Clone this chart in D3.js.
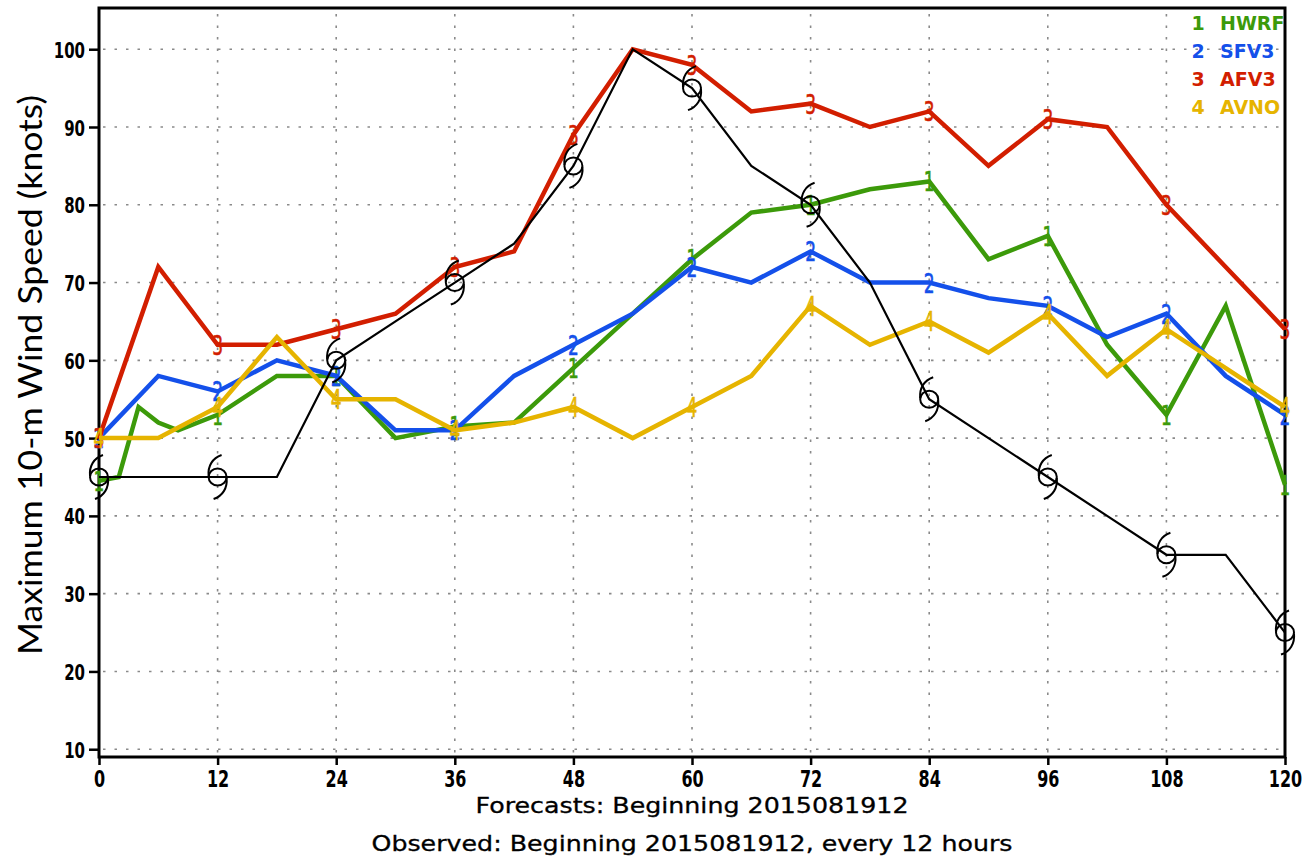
<!DOCTYPE html>
<html>
<head>
<meta charset="utf-8">
<script src="https://cdn.jsdelivr.net/npm/d3@7"></script>
<style>
  html, body { margin: 0; padding: 0; background: #fff; }
  svg { display: block; }
</style>
</head>
<body>
<svg id="chart" width="1303" height="856"></svg>
<script>
// Forecast hours (every 6 h) shared by most series
const hours6 = [0, 6, 12, 18, 24, 30, 36, 42, 48, 54, 60, 66, 72, 78, 84, 90, 96, 102, 108, 114, 120];
// HWRF has a few extra early outputs
const hwrfHours = [0, 2, 4, 6, 8, 12, 18, 24, 30, 36, 42, 48, 54, 60, 66, 72, 78, 84, 90, 96, 102, 108, 114, 120];
const hwrfValues = [44.5, 45, 54, 52, 51, 53, 58, 58, 50, 51.5, 52, 59, 66, 73, 79, 80, 82, 83, 73, 76, 62, 53, 67, 44];
const sfv3Values = [50, 58, 56, 60, 58, 51, 51, 58, 62, 66, 72, 70, 74, 70, 70, 68, 67, 63, 66, 58, 53];
const afv3Values = [50, 72, 62, 62, 64, 66, 72, 74, 89, 100, 98, 92, 93, 90, 92, 85, 91, 90, 80, 72, 64];
const avnoValues = [50, 50, 54, 63, 55, 55, 51, 52, 54, 50, 54, 58, 67, 62, 65, 61, 66, 58, 64, 59, 54];
const observedValues = [45, 45, 45, 45, 60, 65, 70, 75, 85, 100, 95, 85, 80, 70, 55, 50, 45, 40, 35, 35, 25];

// Labels
const markerHours = [0, 12, 24, 36, 48, 60, 72, 84, 96, 108, 120];
const xTicks = [0, 12, 24, 36, 48, 60, 72, 84, 96, 108, 120];
const yTicks = [10, 20, 30, 40, 50, 60, 70, 80, 90, 100];
const modelNames = ["HWRF", "SFV3", "AFV3", "AVNO"];
const modelMarks = ["1", "2", "3", "4"];
const modelColors = ["#3c9a0a", "#1450ea", "#d21e00", "#e6b400"];
const yTitle = "Maximum 10-m Wind Speed (knots)";
const xTitle1 = "Forecasts: Beginning 2015081912";
const xTitle2 = "Observed: Beginning 2015081912, every 12 hours";

const svg = d3.select("#chart");
const plotLeft = 99, plotRight = 1285, plotTop = 8, plotBottom = 757;

const x = d3.scaleLinear().domain([0, 120]).range([plotLeft, plotRight]);
const y = d3.scaleLinear().domain([9, 105.3]).range([plotBottom, plotTop]);

// dotted grid
const grid = svg.append("g").attr("stroke", "#8a8a8a").attr("stroke-width", 1.6)
  .attr("stroke-dasharray", "2.5,9");
grid.selectAll("line.h").data(yTicks).join("line").attr("class", "h")
  .attr("x1", plotLeft + 4).attr("x2", plotRight).attr("y1", d => y(d)).attr("y2", d => y(d));
grid.selectAll("line.v").data(xTicks.slice(1, -1)).join("line").attr("class", "v")
  .attr("x1", d => x(d)).attr("x2", d => x(d)).attr("y1", plotTop + 6).attr("y2", plotBottom);

// axes
const tickFont = "DejaVu Sans, sans-serif";
const yAxis = d3.axisLeft(y).tickValues(yTicks).tickSize(10).tickFormat(d3.format("d"));
const gy = svg.append("g").attr("transform", `translate(${plotLeft},0)`).call(yAxis);
gy.select(".domain").remove();
gy.selectAll(".tick line").attr("stroke", "#000").attr("stroke-width", 2.5);
gy.selectAll(".tick text")
  .attr("x", null).attr("dy", null)
  .attr("transform", "translate(-14,8) scale(1,1.4)")
  .attr("font-family", tickFont).attr("font-weight", "bold").attr("font-size", 15)
  .attr("text-anchor", "end").attr("fill", "#000");

const xAxis = d3.axisBottom(x).tickValues(xTicks).tickSize(8).tickFormat(d3.format("d"));
const gx = svg.append("g").attr("transform", `translate(0,${plotBottom})`).call(xAxis);
gx.select(".domain").remove();
gx.selectAll(".tick line").attr("stroke", "#000").attr("stroke-width", 2.5);
gx.selectAll(".tick text")
  .attr("y", null).attr("dy", null)
  .attr("transform", "translate(0,30) scale(1,1.4)")
  .attr("font-family", tickFont).attr("font-weight", "bold").attr("font-size", 16)
  .attr("text-anchor", "middle").attr("fill", "#000");

// frame
svg.append("rect").attr("x", plotLeft).attr("y", plotTop)
  .attr("width", plotRight - plotLeft).attr("height", plotBottom - plotTop)
  .attr("fill", "none").attr("stroke", "#000").attr("stroke-width", 3);

const plot = svg.append("g");
const line = d3.line().x(d => x(d[0])).y(d => y(d[1]));

const models = [
  { hours: hwrfHours, values: hwrfValues },
  { hours: hours6, values: sfv3Values },
  { hours: hours6, values: afv3Values },
  { hours: hours6, values: avnoValues }
];

models.forEach((m, i) => {
  const pts = m.hours.map((h, k) => [h, m.values[k]]);
  plot.append("path").datum(pts).attr("d", line)
    .attr("fill", "none").attr("stroke", modelColors[i]).attr("stroke-width", 4.5)
    .attr("stroke-linejoin", "miter");
  const marks = pts.filter(p => markerHours.includes(p[0]));
  plot.append("g").selectAll("text").data(marks).join("text")
    .attr("transform", d => `translate(${x(d[0])},${y(d[1]) + 10}) scale(1,1.6)`)
    .attr("text-anchor", "middle")
    .attr("font-family", tickFont).attr("font-size", 17)
    .attr("stroke", modelColors[i]).attr("stroke-width", 0.4)
    .attr("fill", modelColors[i])
    .text(modelMarks[i]);
});

// observed track with tropical cyclone symbols
const obsPts = hours6.map((h, k) => [h, observedValues[k]]);
plot.append("path").datum(obsPts).attr("d", line)
  .attr("fill", "none").attr("stroke", "#000").attr("stroke-width", 2.2);
const tc = plot.append("g").selectAll("g").data(obsPts.filter(p => markerHours.includes(p[0]))).join("g")
  .attr("transform", d => `translate(${x(d[0])},${y(d[1])})`)
  .attr("fill", "none").attr("stroke", "#000").attr("stroke-width", 2);
tc.append("ellipse").attr("rx", 9).attr("ry", 8.5);
tc.append("path").attr("d", "M-9,-1 C-10,-11 -5,-19 4,-22");
tc.append("path").attr("d", "M9,1 C10,11 5,19 -4,22");

// legend
const lg = svg.append("g");
modelNames.forEach((n, i) => {
  const yy = 30 + i * 28;
  lg.append("text").attr("x", 1198).attr("y", yy).attr("text-anchor", "middle")
    .attr("font-family", tickFont).attr("font-weight", "bold").attr("font-size", 19)
    .attr("fill", modelColors[i]).text(modelMarks[i]);
  lg.append("text").attr("x", 1220).attr("y", yy)
    .attr("font-family", tickFont).attr("font-weight", "bold").attr("font-size", 19)
    .attr("fill", modelColors[i]).text(n);
});

// titles
svg.append("text").attr("x", (plotLeft + plotRight) / 2).attr("y", 813).attr("text-anchor", "middle")
  .attr("font-family", tickFont).attr("font-size", 21).attr("fill", "#000")
  .attr("stroke", "#000").attr("stroke-width", 0.3)
  .attr("textLength", 433).attr("lengthAdjust", "spacingAndGlyphs").text(xTitle1);
svg.append("text").attr("x", (plotLeft + plotRight) / 2).attr("y", 851).attr("text-anchor", "middle")
  .attr("font-family", tickFont).attr("font-size", 21).attr("fill", "#000")
  .attr("stroke", "#000").attr("stroke-width", 0.3)
  .attr("textLength", 641).attr("lengthAdjust", "spacingAndGlyphs").text(xTitle2);

svg.append("text").attr("transform", "translate(42,375) rotate(-90)").attr("text-anchor", "middle")
  .attr("font-family", "Lato, Open Sans, sans-serif").attr("font-size", 32).attr("fill", "#000")
  .attr("textLength", 560).attr("lengthAdjust", "spacingAndGlyphs").text(yTitle);
</script>
</body>
</html>
